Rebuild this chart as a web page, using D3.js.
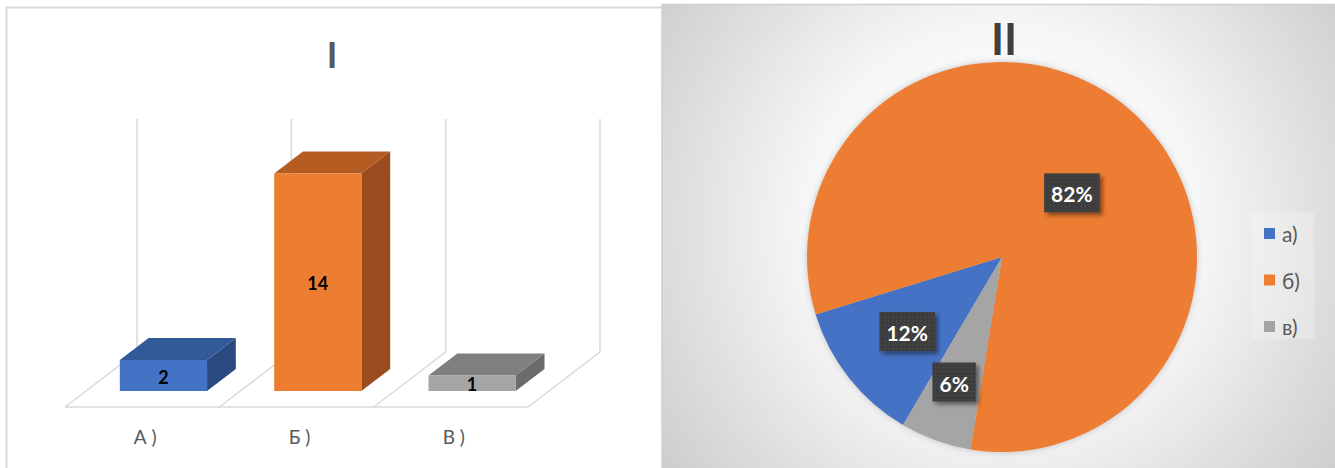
<!DOCTYPE html>
<html>
<head>
<meta charset="utf-8">
<script src="https://cdn.jsdelivr.net/npm/d3@7"></script>
<style>
  html, body { margin: 0; padding: 0; background: #ffffff; }
  svg { display: block; }
  text { font-family: Lato, "Open Sans", "Noto Sans", sans-serif; }
</style>
</head>
<body>
<svg id="chart" width="1335" height="468"></svg>
<script>
// ---- data ----
const barTitle = "I";
const categories = ["А )", "Б )", "В )"];
const barValues = [2, 14, 1];
const barAxisMax = 15;

const pieTitle = "II";
const pieCategories = ["а)", "б)", "в)"];
const pieValues = [2, 14, 1];

// ---- styling ----
const frontColors = ["#4472c4", "#ed7d31", "#a5a5a5"];
const topColors   = ["#335a98", "#b45c22", "#7f7f7f"];
const sideColors  = ["#2b4a80", "#994c1d", "#6b6b6b"];
const pieColors   = ["#4472c4", "#ed7d31", "#a5a5a5"];

const svg = d3.select("#chart");
const defs = svg.append("defs");

// ================= Panel I: 3D column chart =================
svg.append("rect")
  .attr("x", 6.5).attr("y", 7.5).attr("width", 700).attr("height", 500)
  .attr("fill", "#ffffff").attr("stroke", "#d9d9d9").attr("stroke-width", 2);

svg.append("text")
  .attr("x", 332).attr("y", 68)
  .attr("text-anchor", "middle")
  .attr("font-size", 36).attr("font-weight", 700)
  .attr("fill", "#595959")
  .text(barTitle);

// oblique floor: front edge at y=407, receding by (dx, dy) to the back wall
const floor = { x0: 65, x1: 528, y: 407, dx: 72, dy: -55 };
const x = d3.scaleBand().domain(categories).range([floor.x0, floor.x1]);
const h = d3.scaleLinear().domain([0, barAxisMax]).range([0, 233]);
const proj = (px, depth, height) => [px + depth * floor.dx, floor.y + depth * floor.dy - height];
const line = d3.line();

const grid = svg.append("g").attr("fill", "none").attr("stroke", "#d9d9d9").attr("stroke-width", 1.5);
const edges = categories.map(c => x(c)).concat([floor.x1]);
// front edge of the floor
grid.append("path").attr("d", line([proj(floor.x0, 0, 0), proj(floor.x1, 0, 0)]));
edges.forEach(ex => {
  // floor divider receding to the back wall
  grid.append("path").attr("d", line([proj(ex, 0, 0), proj(ex, 1, 0)]));
  // vertical divider on the back wall
  grid.append("path").attr("d", line([proj(ex, 1, 0), proj(ex, 1, h(barAxisMax))]));
});

const bw = x.bandwidth();
const inset = bw * 0.22, barW = bw * 0.565;
const d0 = 0.29, d1 = 0.69;

const bars = svg.append("g").selectAll("g").data(barValues).join("g");
bars.each(function (v, i) {
  const g = d3.select(this);
  const xl = x(categories[i]) + inset, xr = xl + barW, hv = h(v);
  g.append("path").attr("fill", sideColors[i])
    .attr("d", line([proj(xr, d0, 0), proj(xr, d1, 0), proj(xr, d1, hv), proj(xr, d0, hv)]) + "Z");
  g.append("path").attr("fill", topColors[i])
    .attr("d", line([proj(xl, d0, hv), proj(xr, d0, hv), proj(xr, d1, hv), proj(xl, d1, hv)]) + "Z");
  g.append("path").attr("fill", frontColors[i])
    .attr("d", line([proj(xl, d0, 0), proj(xr, d0, 0), proj(xr, d0, hv), proj(xl, d0, hv)]) + "Z");
  const c = proj((xl + xr) / 2, d0, hv / 2);
  g.append("text")
    .attr("x", c[0]).attr("y", c[1] + 1)
    .attr("text-anchor", "middle").attr("dominant-baseline", "central")
    .attr("font-size", 18).attr("font-weight", 700).attr("fill", "#000000")
    .text(v);
});

svg.append("g").selectAll("text").data(categories).join("text")
  .attr("x", d => x(d) + bw / 2 + 3)
  .attr("y", 444)
  .attr("text-anchor", "middle")
  .attr("font-size", 19).attr("fill", "#595959")
  .text(d => d);

// ================= Panel II: pie chart =================
const bg = defs.append("radialGradient").attr("id", "pieBg")
  .attr("gradientUnits", "userSpaceOnUse")
  .attr("cx", 1002).attr("cy", 225).attr("r", 430);
[[0, "#ffffff"], [0.45, "#f7f7f7"], [0.78, "#dcdcdc"], [1, "#cbcbcb"]]
  .forEach(([o, c]) => bg.append("stop").attr("offset", o).attr("stop-color", c));

svg.append("rect")
  .attr("x", 662).attr("y", 4.5).attr("width", 700).attr("height", 500)
  .attr("fill", "url(#pieBg)").attr("stroke", "#cfcfcf").attr("stroke-width", 1.5);

svg.append("text")
  .attr("x", 1004).attr("y", 55)
  .attr("text-anchor", "middle")
  .attr("font-size", 44).attr("font-weight", 700)
  .attr("fill", "#404040")
  .text(pieTitle);

const pieShadow = defs.append("filter").attr("id", "pieShadow")
  .attr("x", "-10%").attr("y", "-10%").attr("width", "120%").attr("height", "120%");
pieShadow.append("feDropShadow").attr("dx", 0).attr("dy", 0).attr("stdDeviation", 3)
  .attr("flood-color", "#5a6470").attr("flood-opacity", 0.35);

const boxShadow = defs.append("filter").attr("id", "boxShadow")
  .attr("x", "-20%").attr("y", "-20%").attr("width", "150%").attr("height", "160%");
boxShadow.append("feDropShadow").attr("dx", 3).attr("dy", 3).attr("stdDeviation", 2)
  .attr("flood-color", "#000000").attr("flood-opacity", 0.45);

const dots = defs.append("pattern").attr("id", "dots")
  .attr("patternUnits", "userSpaceOnUse").attr("width", 4).attr("height", 4);
dots.append("rect").attr("width", 4).attr("height", 4).attr("fill", "#3d3d3d");
dots.append("rect").attr("x", 1).attr("y", 1).attr("width", 1).attr("height", 1).attr("fill", "#555555");

const cx = 1002, cy = 257, r = 195;
const startA = 210.5 * Math.PI / 180;
const pie = d3.pie().sort(null).value(d => d)
  .startAngle(startA).endAngle(startA + 2 * Math.PI);
const arcs = pie(pieValues);
const arc = d3.arc().innerRadius(0).outerRadius(r);
const labelArc = d3.arc().innerRadius(r * 0.6).outerRadius(r * 0.6);
const labelNudge = [[-3, 2], [-7, 24], [-8, 15]];
const total = d3.sum(pieValues);
const pct = d3.format(".0%");

const pg = svg.append("g").attr("transform", `translate(${cx},${cy})`);
pg.append("g").attr("filter", "url(#pieShadow)")
  .selectAll("path").data(arcs).join("path")
  .attr("d", arc)
  .attr("fill", (d, i) => pieColors[i]);

const lbl = pg.append("g").selectAll("g").data(arcs).join("g")
  .attr("transform", (d, i) => {
    const [lx, ly] = labelArc.centroid(d);
    return `translate(${lx + labelNudge[i][0]},${ly + labelNudge[i][1]})`;
  });
const rects = lbl.append("rect").attr("fill", "url(#dots)").attr("filter", "url(#boxShadow)");
const texts = lbl.append("text")
  .attr("text-anchor", "middle").attr("dominant-baseline", "central")
  .attr("y", 1)
  .attr("font-size", 21).attr("font-weight", 700).attr("fill", "#ffffff")
  .text(d => pct(d.data / total));
texts.each(function (d, i) {
  const w = this.getComputedTextLength() + 14;
  d3.select(rects.nodes()[i])
    .attr("x", -w / 2).attr("y", -19.5).attr("width", w).attr("height", 39);
});

// legend
const legend = svg.append("g");
legend.append("rect")
  .attr("x", 1252).attr("y", 212).attr("width", 62).attr("height", 127)
  .attr("fill", "#ffffff").attr("fill-opacity", 0.22);
const li = legend.selectAll("g").data(pieCategories).join("g")
  .attr("transform", (d, i) => `translate(1264,${233.5 + i * 46.5})`);
li.append("rect").attr("x", 0).attr("y", -5.5).attr("width", 11).attr("height", 11)
  .attr("fill", (d, i) => pieColors[i]);
li.append("text").attr("x", 18).attr("y", 0)
  .attr("dominant-baseline", "central")
  .attr("font-size", 21).attr("fill", "#595959")
  .text(d => d);
</script>
</body>
</html>
